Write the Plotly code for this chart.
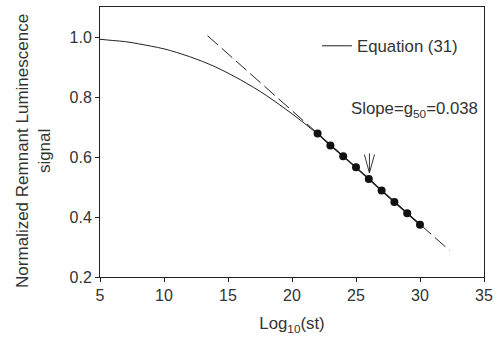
import plotly.graph_objects as go

# Equation (31) curve
curve_x = list(range(5, 31))
curve_y = [0.995, 0.991, 0.987, 0.980, 0.972, 0.963, 0.951, 0.937, 0.921, 0.903,
           0.882, 0.859, 0.834, 0.807, 0.777, 0.746, 0.713, 0.678, 0.642, 0.604,
           0.567, 0.528, 0.490, 0.451, 0.413, 0.376]

# Data points (solid circles)
pts_x = [22, 23, 24, 25, 26, 27, 28, 29, 30]
pts_y = [0.680, 0.640, 0.604, 0.567, 0.528, 0.489, 0.451, 0.413, 0.375]

# Dashed straight-line fit (slope 0.038)
fit_x = [13.4, 32.3]
fit_y = [1.007, 0.289]

x_ticks = [5, 10, 15, 20, 25, 30, 35]
y_ticks = [0.2, 0.4, 0.6, 0.8, 1.0]

ink = "#222222"
txt = "#333333"
font = "Liberation Sans, Arial, sans-serif"

fig = go.Figure()
fig.add_trace(go.Scatter(x=fit_x, y=fit_y, mode="lines",
                         line=dict(color=ink, width=1, dash="14px,5px"),
                         showlegend=False, hoverinfo="skip"))
fig.add_trace(go.Scatter(x=curve_x, y=curve_y, mode="lines", name="Equation (31)",
                         line=dict(color=ink, width=1, shape="spline"),
                         showlegend=True))
fig.add_trace(go.Scatter(x=pts_x, y=pts_y, mode="lines+markers",
                         line=dict(color=ink, width=1.5),
                         marker=dict(color="#111111", size=8),
                         showlegend=False))

fig.add_annotation(x=29.6, y=0.759, xref="x", yref="y",
                   text="Slope=g<sub>50</sub>=0.038", showarrow=False,
                   font=dict(size=16.8, color=txt, family=font))
# open "V" arrow pointing at the 26 point: shaft + two arms
for dx, dy in [(0, -21), (-5.5, -20), (5.5, -20)]:
    fig.add_annotation(x=26.05, y=0.548, xref="x", yref="y", ax=dx, ay=dy,
                       text="", showarrow=True, arrowhead=0,
                       arrowwidth=0.9, arrowcolor=ink)

# y-axis title as rotated annotation
fig.add_annotation(text="Normalized Remnant Luminescence<br>signal",
                   xref="paper", yref="paper", x=0, y=0.467, xshift=-66,
                   xanchor="center", yanchor="middle", textangle=-90,
                   showarrow=False, font=dict(size=17, color=txt, family=font))

fig.update_layout(
    width=501, height=339,
    margin=dict(l=100, r=17, t=7, b=62),
    paper_bgcolor="white", plot_bgcolor="white",
    font=dict(family=font, size=16, color=txt),
    legend=dict(x=0.565, y=0.856, xanchor="left", yanchor="middle",
                bgcolor="rgba(0,0,0,0)", font=dict(size=16.8, color=txt, family=font)),
    xaxis=dict(range=[5, 35], tickvals=x_ticks, ticks="outside", ticklen=4,
               tickcolor=ink, showline=True, linecolor=ink, linewidth=1, mirror=True,
               showgrid=False, zeroline=False, automargin=False,
               tickfont=dict(size=16, color=txt, family=font),
               title=dict(text="Log<sub>10</sub>(st)", standoff=14,
                          font=dict(size=16.8, color=txt, family=font))),
    yaxis=dict(range=[0.2, 1.103], tickvals=y_ticks, tickformat=".1f", ticks="outside",
               ticklen=4, tickcolor=ink, showline=True, linecolor=ink, linewidth=1,
               mirror=True, showgrid=False, zeroline=False, automargin=False,
               tickfont=dict(size=16, color=txt, family=font)),
)

fig.write_html("out.html", config={"displayModeBar": False},
               post_script="document.body.style.margin='0';document.body.style.overflow='hidden';")
